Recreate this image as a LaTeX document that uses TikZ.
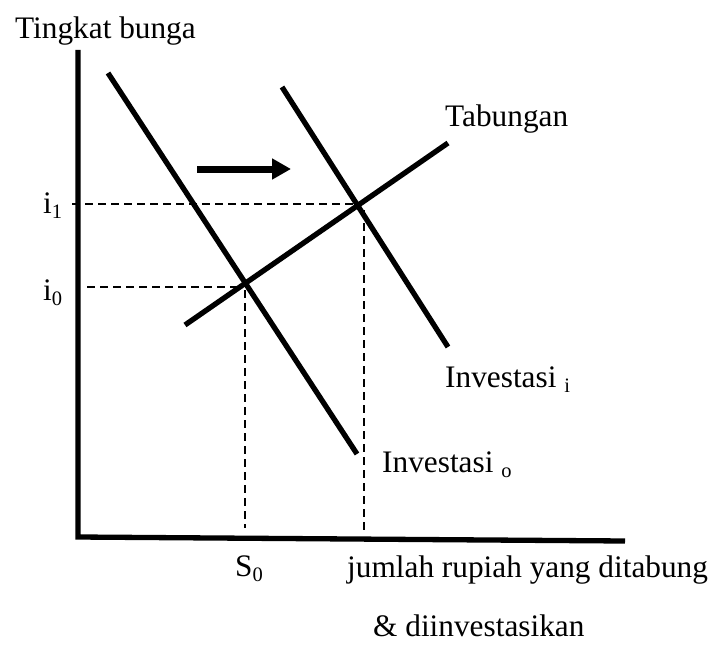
\documentclass[tikz,border=0pt]{standalone}
\usepackage{fontspec}
\setmainfont{Liberation Serif}
\usetikzlibrary{arrows.meta}
\newcommand{\lowsub}[1]{\raisebox{-0.16em}{\fontsize{20.5}{20.5}\selectfont #1}}
\tikzset{
  lbl/.style={inner sep=0pt, anchor=base west, font=\fontsize{31.3}{37}\selectfont},
  thick line/.style={line width=5.3pt},
  guide/.style={line width=1.6pt, dash pattern=on 8pt off 5pt},
  shiftarrow/.style={line width=7pt, -{Triangle[length=19pt,width=20pt]}}
}
\begin{document}
\begin{tikzpicture}[x=1pt,y=-1pt]
\useasboundingbox (0,0) rectangle (722,650);
% axes
\coordinate (ytop) at (78,50);
\coordinate (orig) at (78,537);
\coordinate (xend) at (625,541);
\draw[thick line, line join=miter] (ytop) -- (orig) -- (xend);
% curves
\coordinate (I0a) at (108,73);
\coordinate (I0b) at (357,454);
\coordinate (I1a) at (282,87);
\coordinate (I1b) at (448,347);
\coordinate (Ta) at (185,325);
\coordinate (Tb) at (448,143);
\draw[thick line] (I0a) -- (I0b);
\draw[thick line] (I1a) -- (I1b);
\draw[thick line] (Ta) -- (Tb);
% guides
\coordinate (g1s) at (72,204);
\coordinate (g1e) at (357,204);
\coordinate (g0s) at (87,287);
\coordinate (g0e) at (242,287);
\coordinate (v0s) at (245,290);
\coordinate (v0e) at (245,528);
\coordinate (v1s) at (364,210);
\coordinate (v1e) at (364,530);
\draw[guide] (g1s) -- (g1e);
\draw[guide] (g0s) -- (g0e);
\draw[guide] (v0s) -- (v0e);
\draw[guide] (v1s) -- (v1e);
% shift arrow
\coordinate (as) at (197,169);
\coordinate (ae) at (291,169);
\draw[shiftarrow] (as) -- (ae);
% labels
\node[lbl] (ylab) at (15,39) {Tingkat bunga};
\node[lbl] (tab) at (445,127) {Tabungan};
\node[lbl] (inv1) at (445,387) {Investasi \lowsub{i}};
\node[lbl] (inv0) at (382,472) {Investasi \lowsub{o}};
\node[lbl] (i1) at (43,213) {i\lowsub{1}};
\node[lbl] (i0) at (43,300) {i\lowsub{0}};
\node[lbl] (s0) at (235,576) {S\lowsub{0}};
\node[lbl] (xlab1) at (347,577) {jumlah rupiah yang ditabung};
\node[lbl] (xlab2) at (373,636) {\& diinvestasikan};
\end{tikzpicture}
\end{document}
